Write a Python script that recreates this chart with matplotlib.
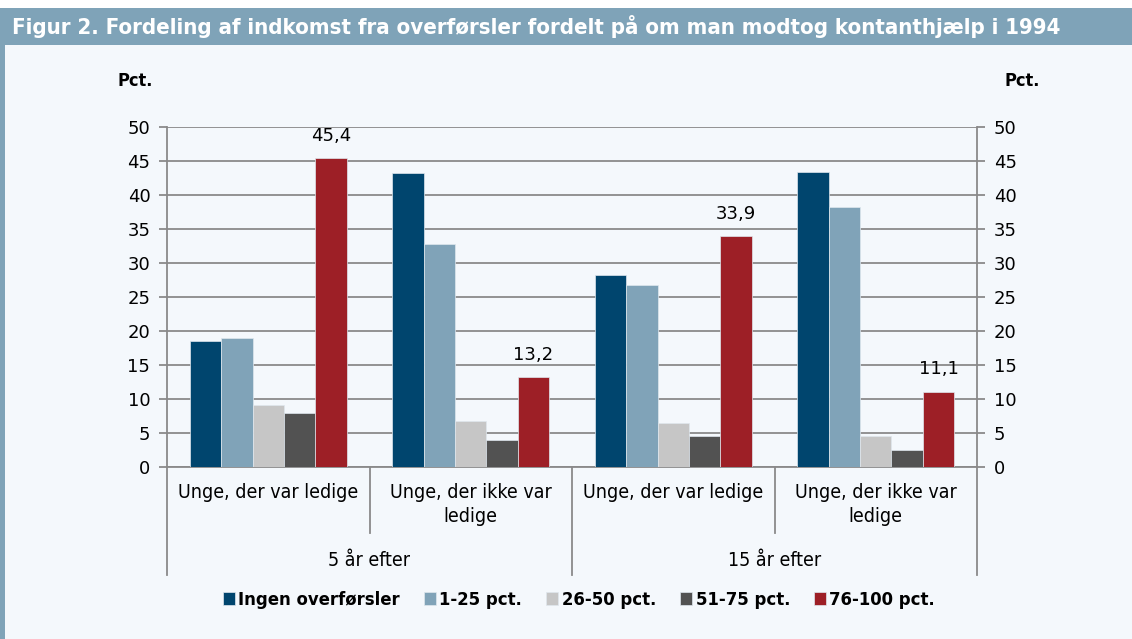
import matplotlib
matplotlib.use("Agg")
import matplotlib.pyplot as plt
import numpy as np
from matplotlib.patches import Rectangle
import matplotlib.transforms as mtransforms

plt.rcParams['font.family'] = ['DejaVu Sans']
plt.rcParams['font.stretch'] = 'condensed'

# data
groups = ["Unge, der var ledige", "Unge, der ikke var\nledige",
          "Unge, der var ledige", "Unge, der ikke var\nledige"]
periods = ["5 år efter", "15 år efter"]
series = ["Ingen overførsler", "1-25 pct.", "26-50 pct.", "51-75 pct.", "76-100 pct."]
ingen = [18.5, 43.3, 28.3, 43.4]
p1_25 = [19.0, 32.8, 26.7, 38.3]
p26_50 = [9.1, 6.7, 6.5, 4.5]
p51_75 = [7.9, 3.9, 4.6, 2.5]
p76_100 = [45.4, 13.2, 33.9, 11.1]
labels_76 = ["45,4", "13,2", "33,9", "11,1"]

colors = ["#00456e", "#80a3b8", "#c6c6c6", "#525252", "#9d1f26"]
bg = "#f4f8fc"

fig = plt.figure(figsize=(11.32, 6.39), dpi=100)
fig.patch.set_facecolor(bg)

# header bar and left border
fig.patches.append(Rectangle((0, 1 - 8 / 639), 1, 8 / 639, transform=fig.transFigure,
                             facecolor="white", edgecolor="none", zorder=0))
fig.patches.append(Rectangle((0, 1 - 45 / 639), 1, 37 / 639, transform=fig.transFigure,
                             facecolor="#7fa3b8", edgecolor="none", zorder=1))
fig.patches.append(Rectangle((0, 0), 5 / 1132, 1 - 45 / 639, transform=fig.transFigure,
                             facecolor="#7fa3b8", edgecolor="none", zorder=1))
fig.text(12 / 1132, 1 - 27 / 639,
         "Figur 2. Fordeling af indkomst fra overførsler fordelt på om man modtog kontanthjælp i 1994",
         color="white", fontsize=15.9, fontweight="bold", va="center", ha="left")

ax = fig.add_axes([167 / 1132, 1 - 467 / 639, 810 / 1132, 340 / 639])
ax.set_facecolor(bg)

x = np.arange(len(groups))
w = 0.155
all_series = [ingen, p1_25, p26_50, p51_75, p76_100]
for i, vals in enumerate(all_series):
    ax.bar(x + (i - 2) * w, vals, width=w, color=colors[i], edgecolor="#dfe7ee",
           linewidth=0.5, zorder=3, label=series[i])

for xi, v, lab in zip(x, p76_100, labels_76):
    ax.text(xi + 2 * w, v + 2.0, lab, ha="center", va="bottom", fontsize=13,
            fontstretch="normal")

ax.set_xlim(-0.5, 3.5)
ax.set_ylim(0, 50)
ax.set_yticks(range(0, 51, 5))
ax.yaxis.grid(True, color="#8a8a8a", linewidth=1.3, zorder=0)
ax.set_axisbelow(True)
ax.tick_params(axis="y", labelsize=13, length=6, pad=6, color="#8a8a8a", width=1.3,
               labelright=True, right=True)
for lab in ax.get_yticklabels() + ax.yaxis.get_ticklabels(which="major"):
    lab.set_fontstretch("normal")
for t in ax.yaxis.get_major_ticks():
    t.label2.set_fontstretch("normal")
ax.set_xticks([])
ax.spines["top"].set_visible(False)
for s in ["left", "right", "bottom"]:
    ax.spines[s].set_color("#8a8a8a")
    ax.spines[s].set_linewidth(1.3)

# category separators
trans = mtransforms.blended_transform_factory(ax.transData, ax.transAxes)
for sx in [0.5, 2.5]:
    ax.plot([sx, sx], [0, -66 / 340], color="#8a8a8a", lw=1.3, transform=trans, clip_on=False)
for sx in [-0.5, 1.5, 3.5]:
    ax.plot([sx, sx], [0, -108 / 340], color="#8a8a8a", lw=1.3, transform=trans, clip_on=False)

for xi, g in zip(x, groups):
    ax.text(xi, -16 / 340, g, transform=trans, ha="center", va="top", fontsize=14,
            linespacing=1.3)
for px, p in zip([0.5, 2.5], periods):
    ax.text(px, -94 / 340, p, transform=trans, ha="center", va="center", fontsize=14)

fig.text(135 / 1132, 1 - 81 / 639, "Pct.", fontsize=13, fontweight="bold", ha="center", va="center")
fig.text(1022 / 1132, 1 - 81 / 639, "Pct.", fontsize=13, fontweight="bold", ha="center", va="center")

handles, leglabels = ax.get_legend_handles_labels()
leg = fig.legend(handles, leglabels, loc="center", bbox_to_anchor=(579 / 1132, 1 - 600 / 639),
                 ncol=5, frameon=False, handlelength=0.65, handleheight=0.65, handletextpad=0.2,
                 columnspacing=1.3, prop={"weight": "bold", "size": 13.2, "stretch": "condensed"})

fig.savefig("out.png", dpi=100, facecolor=bg)
